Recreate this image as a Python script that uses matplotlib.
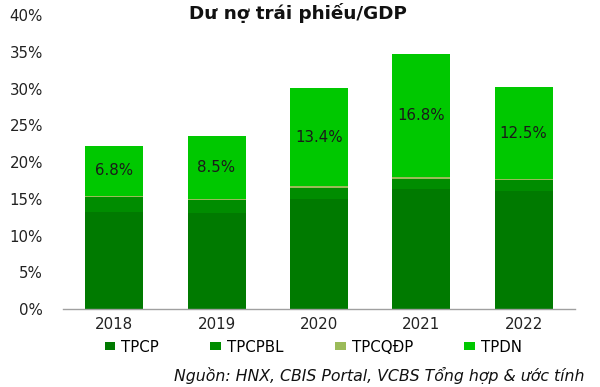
import matplotlib
matplotlib.use("Agg")
import matplotlib.pyplot as plt
import numpy as np

years = ["2018", "2019", "2020", "2021", "2022"]
tpcp = [13.2, 13.0, 15.0, 16.3, 16.1]
tpcpbl = [2.0, 1.8, 1.5, 1.4, 1.4]
tpcqdp = [0.2, 0.2, 0.2, 0.2, 0.2]
tpdn = [6.8, 8.5, 13.4, 16.8, 12.5]
series_names = ["TPCP", "TPCPBL", "TPCQĐP", "TPDN"]
colors = ["#007A00", "#008C00", "#9BBB59", "#00C800"]
yticks = [0, 5, 10, 15, 20, 25, 30, 35, 40]

plt.rcParams['font.family'] = ['DejaVu Sans']
FS = 10.8

fig = plt.figure(figsize=(6.0, 3.87), dpi=100)
ax = fig.add_axes([0.105, 0.2016, 0.853, 0.7594])

x = np.arange(len(years))
w = 0.566
bottom = np.zeros(len(years))
data = [tpcp, tpcpbl, tpcqdp, tpdn]
handles = []
for vals, name, c in zip(data, series_names, colors):
    vals = np.array(vals)
    b = ax.bar(x, vals, w, bottom=bottom, color=c, label=name, edgecolor='none')
    handles.append(b)
    bottom = bottom + vals

# labels on TPDN
base = np.array(tpcp) + np.array(tpcpbl) + np.array(tpcqdp)
for xi, b0, v in zip(x, base, tpdn):
    ax.text(xi, b0 + v / 2, f"{v:.1f}%", ha='center', va='center', fontsize=FS, color='#1a1a1a')

ax.set_xlim(-0.5, 4.5)
ax.set_ylim(0, 40)
ax.set_yticks(yticks)
ax.set_yticklabels([f"{t}%" for t in yticks], fontsize=FS, color='#222222')
ax.set_xticks(x)
ax.set_xticklabels(years, fontsize=FS, color='#222222')
ax.tick_params(axis='y', length=0, pad=14.4)
ax.tick_params(axis='x', length=0, pad=6)
for s in ['left', 'right', 'top']:
    ax.spines[s].set_visible(False)
ax.spines['bottom'].set_color('#a0a0a0')
ax.spines['bottom'].set_linewidth(1.0)

fig.text(0.496, 0.966, "Dư nợ trái phiếu/GDP", ha='center', va='center',
         fontsize=13.2, fontweight='bold', color='#111111')

leg = fig.legend(handles=handles, labels=series_names, loc='center',
                 bbox_to_anchor=(0.522, 0.103), ncol=4, frameon=False,
                 fontsize=FS, handlelength=0.73, handleheight=0.47,
                 handletextpad=0.4, columnspacing=3.4, borderaxespad=0, borderpad=0)

fig.text(0.975, 0.031, "Nguồn: HNX, CBIS Portal, VCBS Tổng hợp & ước tính",
         ha='right', va='center', fontsize=11.3, style='italic', color='#111111')

fig.savefig("out.png", dpi=100)
